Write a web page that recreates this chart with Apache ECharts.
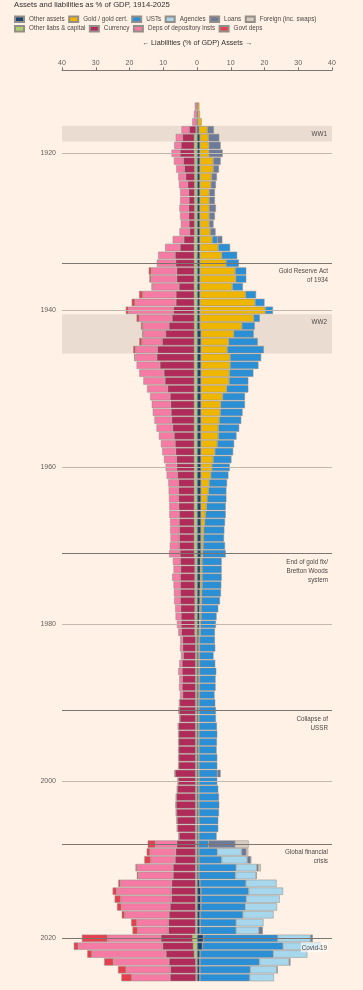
<!DOCTYPE html>
<html><head><meta charset="utf-8">
<script src="https://cdn.jsdelivr.net/npm/echarts@6/dist/echarts.min.js"></script>
<style>html,body{margin:0;padding:0;background:#fff1e5;}#c{width:363px;height:990px;}</style>
</head><body><div id="c"></div>
<script>
// Categories: 1914 .. 2025
const years = Array.from({length: 112}, (_, i) => String(1914 + i));
const gridYears = [1920, 1940, 1960, 1980, 2000, 2020];

// ---- Assets (% of GDP), 1914..2025 ----
const otherAssets = [
 0.1,0.3,0.3,0.6,0.9,0.9,
 0.9,0.9,0.9,0.9,0.9,0.9,0.9,0.9,0.9,0.9,
 0.9,0.9,0.9,0.9,0.9,0.9,0.9,0.9,0.9,0.9,
 0.9,0.9,0.9,1.2,1.2,1.2,1.2,1.2,1.2,1.2,
 1.2,1.2,1.2,1.2,1.2,1.2,1.2,1.2,1.2,1.2,
 1.2,1.2,1.2,1.2,1.2,1.2,1.2,1.2,1.2,1.2,
 1.2,1.2,1.0,1.0,1.0,1.0,0.9,0.9,0.8,0.8,
 0.7,0.6,0.5,0.5,0.5,0.5,0.5,0.5,0.5,0.5,
 0.4,0.4,0.4,0.4,0.4,0.4,0.4,0.4,0.4,0.4,
 0.4,0.4,0.4,0.4,0.4,0.4,0.4,0.4,0.4,0.5,
 0.5,0.5,0.5,0.8,1.1,1.1,1.1,0.9,0.9,0.9,
 1.9,1.6,0.9,0.8,0.8,0.8];
const gold = [
 0.6,0.6,1.1,2.5,2.5,2.6,
 2.6,3.9,3.9,3.4,3.2,2.7,2.7,2.7,2.7,2.7,
 3.0,3.6,5.4,6.4,7.7,10.4,10.6,9.6,13.5,16.3,
 19.3,15.9,12.4,9.7,8.2,7.8,8.6,8.6,8.4,8.3,
 7.6,6.4,5.8,5.7,5.4,5.1,5.1,4.8,4.1,3.6,
 3.2,2.9,2.4,2.2,1.8,1.6,1.3,1.1,0.8,0.7,
 0.6,0.5,0.5,0.5,0.5,0.5,0.5,0.5,0.4,0.4,
 0.4,0.4,0.3,0.3,0.3,0.3,0.3,0.3,0.3,0.3,
 0.2,0.2,0.2,0.2,0.2,0.2,0.2,0.2,0.2,0.2,
 0.2,0.2,0.2,0.2,0.2,0.2,0.2,0.2,0.1,0.1,
 0.1,0.1,0.1,0.1,0.1,0.1,0.1,0.1,0.1,0.1,
 0.1,0.1,0.1,0.1,0.1,0.1];
const usts = [
 0,0,0,0,0,0,
 0,0,0,0,0,0,0,0,0,0,
 0,1.5,3.5,4.6,3.8,3.3,3.1,3.1,3.1,2.8,
 2.3,1.8,3.8,5.9,8.6,10.8,9.2,8.4,7.1,5.7,
 6.4,6.6,7.2,6.6,6.5,6.2,5.4,5.0,5.4,5.4,
 5.3,5.2,5.3,5.3,5.7,5.7,6.0,6.0,6.1,6.1,
 6.5,6.8,5.8,5.8,5.8,5.7,5.7,5.4,5.1,4.6,
 4.5,4.3,4.5,4.6,4.1,4.6,4.9,4.7,4.7,4.4,
 4.8,5.0,5.0,5.3,5.4,5.3,5.2,5.4,5.4,5.4,
 5.4,5.7,5.9,6.0,5.9,5.7,5.7,5.2,2.9,5.4,
 6.7,11.0,10.8,13.6,14.1,13.4,13.1,12.6,10.6,10.6,
 21.9,23.8,21.6,17.6,14.9,14.7];
const agencies = [
 0,0,0,0,0,0,
 0,0,0,0,0,0,0,0,0,0,
 0,0,0,0,0,0,0,0,0,0,
 0,0,0,0,0,0,0,0,0,0,
 0,0,0,0,0,0,0,0,0,0,
 0,0,0,0,0,0,0,0,0,0,
 0,0,0,0,0,0,0,0,0,0,
 0,0,0,0,0,0,0,0,0,0,
 0,0,0,0,0,0,0,0,0,0,
 0,0,0,0,0,0,0,0,0,7.2,
 7.6,6.1,6.1,9.1,10.2,9.9,9.4,9.1,8.1,6.7,
 9.7,11.1,10.1,8.8,7.8,7.2];
const loans = [
 0,0,0,1.9,3.2,3.5,
 4.1,2.2,1.7,1.6,1.5,1.7,1.7,2.0,1.7,1.3,
 1.6,1.5,0,0,0,0,0,0,0,0,
 0,0,0,0,0,0,0,0,0,0,
 0,0,0,0,0,0,0,0,0,0,
 0,0,0,0,0,0,0,0,0,0,
 0,0,0,0,0,0,0,0,0,0,
 0,0,0,0,0,0,0,0,0,0,
 0,0,0,0,0,0,0,0,0,1.0,
 0,0,0,0,0,0,0,0,7.9,1.4,
 1.0,0.5,0.2,0,0,0,0,0,0,1.2,
 0.7,0,0,0.4,0.3,0];
const foreign = [
 0,0,0,0,0,0,
 0,0,0,0,0,0,0,0,0,0,
 0,0,0,0,0,0,0,0,0,0,
 0,0,0,0,0,0,0,0,0,0,
 0,0,0,0,0,0,0,0,0,0,
 0,0,0,0,0,0,0,0,0,0,
 0,0,0,0,0,0,0,0,0,0,
 0,0,0,0,0,0,0,0,0,0,
 0,0,0,0,0,0,0,0,0,0,
 0,0,0,0,0,0,0,0,4.0,0.6,
 0.1,0.7,0,0,0,0,0,0,0,0,
 0,0,0,0,0,0];

// ---- Liabilities (% of GDP), 1914..2025 ----
const otherLiabs = [
 0,0,0,0.3,0.8,0.8,
 0.8,0.7,0.7,0.7,0.7,0.7,0.7,0.7,0.7,0.7,
 0.7,0.8,0.8,0.8,0.8,0.8,0.8,0.8,0.8,0.8,
 0.8,0.8,0.8,0.8,0.8,0.8,0.8,0.8,0.8,0.8,
 0.8,0.8,0.8,0.8,0.8,0.8,0.8,0.8,0.8,0.8,
 0.8,0.8,0.8,0.8,0.8,0.8,0.8,0.8,0.8,0.8,
 0.8,0.8,0.6,0.6,0.6,0.6,0.6,0.6,0.6,0.6,
 0.6,0.6,0.4,0.4,0.4,0.4,0.4,0.4,0.4,0.4,
 0.4,0.4,0.4,0.4,0.4,0.4,0.4,0.4,0.4,0.4,
 0.4,0.4,0.4,0.4,0.4,0.4,0.4,0.4,0.4,0.4,
 0.4,0.4,0.4,0.4,0.4,0.4,0.4,0.4,0.4,0.4,
 1.3,1.1,0.8,0.4,0.3,0.3];
const currency = [
 0.05,0.1,0.2,2.0,3.5,3.95,
 4.25,3.35,3.05,2.65,2.05,1.8,1.7,1.8,1.8,1.7,
 1.5,3.1,4.25,5.7,5.5,5.2,5.2,4.55,5.45,5.45,
 6.2,6.6,7.5,8.5,9.5,10.9,11.1,10.2,9.0,8.7,
 7.9,7.2,7.0,6.9,6.7,6.4,6.0,5.7,5.5,5.3,
 5.2,5.0,4.7,4.7,4.7,4.6,4.5,4.5,4.45,4.45,
 4.45,4.25,4.35,4.25,4.35,4.35,4.35,4.35,4.25,4.15,
 4.15,4.05,3.85,3.85,3.65,4.05,4.05,3.95,4.05,3.85,
 4.75,4.9,4.65,5.1,5.0,5.0,5.0,5.0,5.0,6.1,
 5.2,5.4,5.7,5.8,5.7,5.5,5.4,4.9,5.6,5.9,
 6.1,6.7,6.7,7.1,7.2,7.2,7.6,7.9,8.1,8.1,
 9.4,9.1,8.4,7.9,7.6,7.7];
const deposits = [
 0.6,0.8,1.2,2.3,2.0,2.0,
 2.5,2.8,2.4,2.2,2.6,2.5,2.6,2.7,2.5,2.4,
 3.0,3.3,4.4,5.0,5.6,7.5,7.6,7.9,9.8,12.1,
 13.3,9.7,7.8,6.6,6.0,6.5,6.4,6.9,7.3,6.4,
 6.1,5.9,5.6,5.4,5.1,4.8,4.5,4.2,4.0,3.7,
 3.3,3.2,3.0,2.9,2.8,2.8,2.9,2.7,2.7,2.6,
 2.8,3.2,2.2,2.1,2.4,2.0,1.9,1.8,1.6,1.6,
 1.2,0.9,0.7,0.8,0.7,0.8,1.1,0.9,0.9,0.8,
 0.2,0.2,0.2,0.2,0.2,0.2,0.2,0.2,0.2,0.2,
 0.2,0.2,0.2,0.2,0.2,0.2,0.2,0.2,6.3,7.6,
 7.2,10.7,10.3,15.2,16.2,15.0,14.4,13.1,9.3,9.1,
 15.8,25.0,21.9,16.5,13.1,11.3];
const govtDeps = [
 0,0,0,0,0,0,
 0,0,0,0,0,0,0,0,0,0,
 0,0,0,0,0,0.8,0.5,0.2,1.1,1.0,
 0.8,0.8,0.5,0.3,0.8,0.7,0.3,0,0,0,
 0,0,0,0,0,0,0,0,0,0,
 0,0,0,0,0,0,0,0,0,0,
 0,0,0,0,0,0,0,0,0,0,
 0,0,0,0,0,0,0,0,0,0,
 0,0,0,0,0,0,0,0,0,0,
 0,0,0,0,0,0,0,0,2.3,1.0,
 1.9,0.4,0.4,0.6,1.2,1.8,1.3,0.9,1.7,1.5,
 7.6,1.3,1.4,2.7,2.4,3.1];

const events = [
 {year: 1934, text: 'Gold Reserve Act\nof 1934'},
 {year: 1971, text: 'End of gold fix/\nBretton Woods\nsystem'},
 {year: 1991, text: 'Collapse of\nUSSR'},
 {year: 2008, text: 'Global financial\ncrisis'}
];
const wars = [
 {name: 'WW1', from: 1917, to: 1918},
 {name: 'WW2', from: 1941, to: 1945}
];

const assetDefs = [
 ['Other assets', otherAssets, '#1c4470'],
 ['Gold / gold cert.', gold, '#eeb600'],
 ['USTs', usts, '#2a8fd4'],
 ['Agencies', agencies, '#a6d7ec'],
 ['Loans', loans, '#6b7b99'],
 ['Foreign (inc. swaps)', foreign, '#d6ccc3']
];
const liabDefs = [
 ['Other liabs & capital', otherLiabs, '#add16c'],
 ['Currency', currency, '#b02b5a'],
 ['Deps of depository insts', deposits, '#f57ba5'],
 ['Govt deps', govtDeps, '#e6404e']
];

function bar(def, sign) {
  return {
    name: def[0], type: 'bar', stack: 'balance', xAxisIndex: 0, yAxisIndex: 0,
    barCategoryGap: '6%', z: 2, silent: true,
    data: def[1].map(v => v ? sign * v : null),
    itemStyle: {color: def[2], borderColor: '#948e89', borderWidth: 0.5},
    emphasis: {disabled: true}
  };
}

const FONT = 'Liberation Sans';
const series = [];
series.push({
  type: 'line', xAxisIndex: 0, yAxisIndex: 1, data: [], z: 0, silent: true,
  markLine: {
    symbol: 'none', silent: true, animation: false, label: {show: false},
    lineStyle: {color: '#c2b8ae', width: 1, type: 'solid'},
    data: gridYears.map(y => ({yAxis: y}))
      .concat([{yAxis: 2020, lineStyle: {color: '#7d756f', width: 1, type: 'solid'}}])
  }
});
assetDefs.forEach(d => series.push(bar(d, 1)));
liabDefs.forEach(d => series.push(bar(d, -1)));
series.push({
  type: 'line', xAxisIndex: 0, yAxisIndex: 1, data: [], z: 5, silent: true,
  markArea: {
    silent: true, animation: false,
    itemStyle: {color: 'rgba(50,40,40,0.1)'},
    label: {show: true, position: 'insideTopRight', distance: 5, fontSize: 6.3, color: '#4d4845', fontFamily: FONT},
    data: wars.map(w => [{yAxis: w.from - 0.5, name: w.name}, {yAxis: w.to + 0.5}])
  },
  markLine: {
    symbol: 'none', silent: true, animation: false,
    lineStyle: {color: '#7d756f', width: 1, type: 'solid'},
    label: {show: true, position: 'insideEndBottom', formatter: '{b}', fontSize: 6.3, lineHeight: 9,
      color: '#4d4845', fontFamily: FONT, distance: 4},
    data: events.map(e => ({yAxis: e.year, name: e.text}))
      .concat([{yAxis: 2020, name: 'Covid-19', lineStyle: {color: 'rgba(0,0,0,0)', width: 1},
        label: {backgroundColor: 'rgba(255,255,255,0.6)', padding: [1, 1, 0, 1]}}])
  }
});

const chart = echarts.init(document.getElementById('c'), null, {renderer: 'canvas'});
chart.setOption({
  animation: false,
  backgroundColor: '#fff1e5',
  textStyle: {fontFamily: FONT},
  title: {text: 'Assets and liabilities as % of GDP, 1914-2025', left: 14, top: 1, padding: 0,
    textStyle: {fontSize: 7.7, fontWeight: 'normal', color: '#33302e', fontFamily: FONT}},
  legend: [
    {data: assetDefs.map(d => d[0]), left: 14, top: 15.5, padding: 0, icon: 'rect',
     itemWidth: 9, itemHeight: 5.5, itemGap: 3.5, selectedMode: false,
     textStyle: {fontSize: 6.3, color: '#4d4845', fontFamily: FONT}},
    {data: liabDefs.map(d => d[0]), left: 14, top: 25, padding: 0, icon: 'rect',
     itemWidth: 9, itemHeight: 5.5, itemGap: 3.5, selectedMode: false,
     textStyle: {fontSize: 6.3, color: '#4d4845', fontFamily: FONT}}
  ],
  grid: {left: 62, right: 31, top: 102.3, bottom: 8.5, containLabel: false},
  xAxis: {
    type: 'value', min: -40, max: 40, interval: 10, position: 'top', offset: 32,
    axisLine: {show: true, lineStyle: {color: '#7d756f', width: 1}},
    axisTick: {show: true, length: 3, lineStyle: {color: '#7d756f'}},
    axisLabel: {formatter: v => String(Math.abs(v)), fontSize: 7, color: '#66605c', margin: 4},
    splitLine: {show: false},
    name: '\u2190 Liabilities (% of GDP) Assets \u2192', nameLocation: 'middle', nameGap: 24,
    nameTextStyle: {fontSize: 7.2, color: '#33302e', fontFamily: FONT}
  },
  yAxis: [
    {type: 'category', data: years, inverse: true,
     axisLine: {show: false}, axisTick: {show: false}, splitLine: {show: false},
     axisLabel: {interval: (i, v) => Number(v) % 20 === 0, fontSize: 7, color: '#66605c', margin: 6}},
    {type: 'value', min: 1913.5, max: 2025.5, inverse: true, show: false,
     splitLine: {show: false}}
  ],
  series: series
});
</script></body></html>
